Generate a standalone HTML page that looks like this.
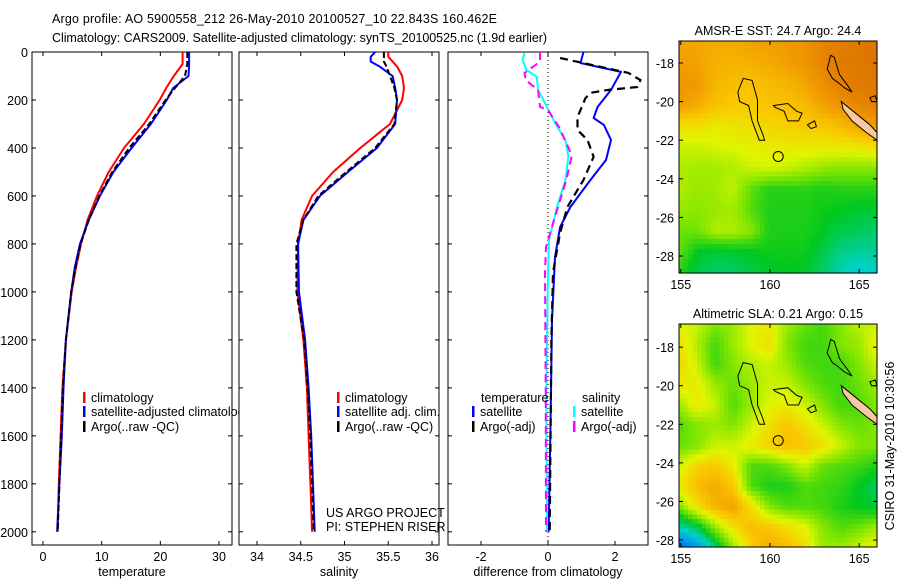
<!DOCTYPE html>
<html><head><meta charset="utf-8"><style>
html,body{margin:0;padding:0;background:#fff;}
svg{display:block;font-family:"Liberation Sans",sans-serif;}
text{font-size:12.5px;fill:#000;}
</style></head><body>
<svg id="fig" width="900" height="580" viewBox="0 0 900 580">
<text x="52" y="23" textLength="445">Argo profile: AO 5900558_212 26-May-2010 20100527_10 22.843S 160.462E</text>
<text x="52" y="42" textLength="495">Climatology: CARS2009. Satellite-adjusted climatology: synTS_20100525.nc (1.9d earlier)</text>
<g id="g"></g>
</svg>
<script>
// ---------- profile data ----------
const tDepthClim = [0,50,100,150,200,300,400,500,600,700,800,900,1000,1200,1400,1600,1800,2000];
const tempClim   = [23.8,23.8,22.3,21.0,19.9,17.2,13.8,11.2,9.2,7.6,6.5,5.6,4.9,3.9,3.3,3.0,2.7,2.5];
const tempSat    = [24.9,24.9,24.8,22.2,21.1,18.4,15.1,12.0,9.7,7.8,6.3,5.4,4.8,3.9,3.5,3.2,2.8,2.4];
const tempArgo   = [24.6,24.6,24.2,22.5,20.9,18.1,14.7,11.8,9.6,7.8,6.4,5.5,4.8,3.9,3.4,3.1,2.8,2.5];
const sDepth     = [0,20,40,60,100,150,200,300,400,500,600,700,800,1000,1200,1400,1600,1800,2000];
const salClim    = [35.50,35.50,35.55,35.60,35.66,35.68,35.66,35.52,35.18,34.87,34.63,34.51,34.47,34.46,34.53,34.57,34.59,34.61,34.63];
const salSat     = [35.35,35.30,35.30,35.40,35.55,35.58,35.60,35.58,35.37,35.04,34.72,34.53,34.47,34.48,34.55,34.59,34.62,34.64,34.66];
const salArgo    = [35.45,35.45,35.45,35.48,35.52,35.57,35.60,35.57,35.35,35.02,34.70,34.53,34.45,34.45,34.54,34.58,34.61,34.63,34.65];
const dtSatDepth = [0,46,83,158,229,275,304,367,450,533,646,729,854,1117,1500,2000];
const dtSat      = [1.06,0.97,2.18,1.88,1.48,1.36,1.67,1.88,1.73,1.27,0.67,0.36,0.21,0.12,0.08,0.02];
const dtArgoDepth= [25,87,117,146,158,170,192,242,271,325,367,437,533,646,754,920,1200,2000];
const dtArgo     = [0.36,2.4,2.76,2.67,1.8,1.27,1.12,0.97,0.88,0.88,1.18,1.36,1.06,0.58,0.36,0.15,0.1,0.05];
const dsSatDepth = [4,33,75,104,158,229,296,367,437,533,646,783,920,1400,2000];
const dsSat      = [-0.7,-0.76,-0.64,-0.33,-0.3,-0.03,0.21,0.52,0.61,0.52,0.27,0.03,0.0,-0.05,-0.03];
const dsArgoDepth= [0,40,88,117,158,229,242,313,408,437,533,646,729,813,920,1400,2000];
const dsArgo     = [-0.24,-0.24,-0.7,-0.67,-0.3,-0.24,0.0,0.33,0.64,0.7,0.55,0.3,0.12,-0.06,-0.09,-0.07,-0.06];
const depthTicks = [0,200,400,600,800,1000,1200,1400,1600,1800,2000];
const tempTicks  = [0,10,20,30];
const salTicks   = [34,34.5,35,35.5,36];
const salTickLabels = ["34","34.5","35","35.5","36"];
const diffTicks  = [-2,0,2];
// ---------- map data ----------
const sstGrid = [
[26.6,26.6,26.5,26.5,26.7,26.7,26.8,26.9,27.2,27.3,27.4,27.5],
[26.7,26.6,26.4,26.3,26.4,26.5,26.7,26.9,27.2,27.4,27.4,27.5],
[26.9,26.8,26.3,26.1,26.1,26.2,26.3,26.6,27.0,27.3,27.4,27.4],
[26.8,26.5,26.1,25.9,25.9,26.0,26.1,26.2,26.7,27.0,27.2,27.3],
[25.6,25.6,25.4,25.5,25.6,25.7,25.8,25.9,26.0,26.2,26.6,26.8],
[25.0,25.0,25.1,25.2,25.3,25.4,25.4,25.4,25.4,25.4,25.5,25.6],
[24.8,24.7,24.7,24.8,25.0,25.1,25.0,24.8,24.6,24.5,24.5,24.5],
[24.8,24.6,24.7,24.9,24.2,23.8,23.8,23.8,23.7,23.8,23.8,23.8],
[24.6,24.5,24.6,24.7,24.1,23.7,23.7,23.7,23.6,23.5,23.4,23.4],
[24.3,24.3,24.8,24.8,24.5,23.7,23.7,23.7,23.5,23.2,23.1,23.0],
[24.2,23.5,23.3,23.4,23.5,23.6,23.6,23.6,23.2,22.8,22.7,22.7],
[23.8,23.2,23.0,23.0,23.2,23.4,23.5,23.4,23.0,22.5,22.2,22.4]];
const slaGrid = [
[.68,.66,.60,.62,.68,.70,.62,.58,.55,.60,.65,.66],
[.72,.64,.55,.62,.68,.72,.60,.55,.55,.60,.62,.70],
[.74,.66,.55,.60,.64,.66,.62,.56,.55,.55,.60,.66],
[.70,.70,.62,.58,.62,.66,.66,.60,.56,.55,.58,.62],
[.62,.70,.66,.56,.62,.68,.70,.66,.60,.55,.56,.60],
[.56,.60,.62,.60,.66,.72,.76,.72,.66,.60,.58,.60],
[.58,.60,.66,.66,.70,.74,.78,.76,.72,.66,.60,.60],
[.66,.74,.76,.70,.56,.56,.60,.66,.58,.56,.55,.52],
[.70,.78,.82,.76,.56,.52,.52,.56,.55,.54,.50,.45],
[.60,.72,.80,.84,.72,.60,.56,.56,.55,.52,.50,.48],
[.40,.48,.62,.72,.78,.76,.72,.68,.60,.56,.58,.62],
[.15,.25,.45,.62,.74,.82,.78,.72,.62,.62,.66,.70]];
const latTicks = [-18,-20,-22,-24,-26,-28];
const lonTicks = [155,160,165];
const island1 = [[158.2,-19.5],[158.5,-18.8],[159.0,-18.9],[159.3,-19.9],[159.3,-21.0],[159.6,-21.7],[159.7,-22.0],[159.4,-22.0],[159.0,-21.0],[158.8,-20.2],[158.3,-20.0],[158.2,-19.5]];
const island2 = [[163.3,-18.0],[163.4,-17.6],[163.6,-17.7],[163.9,-18.6],[164.3,-19.1],[164.6,-19.5],[164.2,-19.3],[163.8,-19.0],[163.5,-18.8],[163.2,-18.3],[163.3,-18.0]];
const island3 = [[160.2,-20.2],[161.0,-20.1],[161.5,-20.5],[161.8,-20.6],[161.6,-21.0],[161.0,-21.0],[160.8,-20.5],[160.3,-20.3],[160.2,-20.2]];
const island4 = [[162.1,-21.2],[162.5,-21.0],[162.6,-21.3],[162.3,-21.4],[162.1,-21.2]];
const island5 = [[165.6,-19.8],[165.9,-19.7],[166.0,-20.0],[165.7,-20.0],[165.6,-19.8]];
const newCaledonia = [[164.0,-20.0],[164.8,-20.6],[165.6,-21.2],[166.0,-21.6],[166.0,-22.0],[165.4,-21.6],[164.6,-21.0],[164.1,-20.4],[164.0,-20.0]];
const argoPos = [160.462,-22.843];

const NS='http://www.w3.org/2000/svg';
const G=document.getElementById('g');
function mk(tag,attrs,parent){const e=document.createElementNS(NS,tag);for(const k in attrs)e.setAttribute(k,attrs[k]);(parent||G).appendChild(e);return e;}
function txt(x,y,s,anchor,parent){const e=mk('text',{x:x,y:y,'text-anchor':anchor||'start'},parent);e.textContent=s;return e;}

const TOP=52,BOT=545,D0=0,D1=2055;
function yD(d){return TOP+(d-D0)/(D1-D0)*(BOT-TOP);}
function linScale(v0,v1,p0,p1){return v=>p0+(v-v0)/(v1-v0)*(p1-p0);}

function panel(name,x0,x1,xs,ticks,labels,xlabel,showDepthLabels){
  const g=mk('g',{});
  
  
  mk('rect',{x:x0,y:TOP,width:x1-x0,height:BOT-TOP,fill:'#fff',stroke:'#000','stroke-width':1},g);
  depthTicks.forEach(d=>{const y=yD(d);
    mk('line',{x1:x0,x2:x0+4,y1:y,y2:y,stroke:'#000'},g);
    mk('line',{x1:x1-4,x2:x1,y1:y,y2:y,stroke:'#000'},g);
    if(showDepthLabels){const t=txt(x0-4,y+5,String(d),'end',g);
      
      }
  });
  ticks.forEach((v,i)=>{const x=xs(v);
    mk('line',{x1:x,x2:x,y1:BOT,y2:BOT-4,stroke:'#000'},g);
    mk('line',{x1:x,x2:x,y1:TOP,y2:TOP+4,stroke:'#000'},g);
    const t=txt(x,561,labels[i],'middle',g);
    
    
  });
  const xl=txt((x0+x1)/2,576,xlabel,'middle',g);
  
  
  return g;
}
function line(g,depths,vals,xs,color,w,dash,name){
  const pts=depths.map((d,i)=>xs(vals[i]).toFixed(1)+','+yD(d).toFixed(1)).join(' ');
  const p=mk('polyline',{points:pts,fill:'none',stroke:color,'stroke-width':w,'stroke-dasharray':dash||'none','stroke-linejoin':'round'},g);
  
  
}
function legendEntry(g,x,y,color,label,name){
  mk('rect',{x:x,y:y-10,width:2.5,height:11,fill:color},g);
  const t=txt(x+8,y,label,'start',g);
  
  
}
// panel 1
const xT=linScale(0,30,43,219);
const p1=panel('temperature',32,232,xT,tempTicks,tempTicks.map(String),'temperature',true);
line(p1,tDepthClim,tempClim,xT,'#ff0000',2,null,'temp-climatology-line');
line(p1,tDepthClim,tempSat,xT,'#0000ff',2,null,'temp-satellite-line');
line(p1,tDepthClim,tempArgo,xT,'#000',2,'6,3','temp-argo-line');
legendEntry(p1,83,402,'#ff0000','climatology','legend-climatology');
legendEntry(p1,83,416,'#0000ff','satellite-adjusted climatology','legend-satellite');
legendEntry(p1,83,431,'#000','Argo(..raw -QC)','legend-argo');
// panel 2
const xS=linScale(34,36,257,432);
const p2=panel('salinity',239,439,xS,salTicks,salTickLabels,'salinity',false);
line(p2,sDepth,salClim,xS,'#ff0000',2,null,'sal-climatology-line');
line(p2,sDepth,salSat,xS,'#0000ff',2,null,'sal-satellite-line');
line(p2,sDepth,salArgo,xS,'#000',2,'6,3','sal-argo-line');
legendEntry(p2,337,402,'#ff0000','climatology','legend-climatology-2');
legendEntry(p2,337,416,'#0000ff','satellite adj. clim.','legend-satellite-2');
legendEntry(p2,337,431,'#000','Argo(..raw -QC)','legend-argo-2');
const c1=txt(326,517,'US ARGO PROJECT','start',p2);


const c2=txt(326,531,'PI: STEPHEN RISER','start',p2);


// panel 3
const xDf=linScale(-2,2,481,615);
const p3=panel('difference',448,648,xDf,diffTicks,diffTicks.map(String),'difference from climatology',false);
mk('line',{x1:xDf(0),x2:xDf(0),y1:TOP,y2:BOT,stroke:'#000','stroke-dasharray':'1,3'},p3);
line(p3,dtSatDepth,dtSat,xDf,'#0000ff',2,null,'temp-diff-satellite-line');
line(p3,dtArgoDepth,dtArgo,xDf,'#000',2.2,'8,5','temp-diff-argo-line');
line(p3,dsSatDepth,dsSat,xDf,'#00ffff',2,null,'sal-diff-satellite-line');
line(p3,dsArgoDepth,dsArgo,xDf,'#ff00ff',2,'8,5','sal-diff-argo-line');
const lt=txt(481,402,'temperature','start',p3);


const ls=txt(582,402,'salinity','start',p3);


legendEntry(p3,472,416,'#0000ff','satellite','legend-temp-satellite');
legendEntry(p3,472,431,'#000','Argo(-adj)','legend-temp-argo');
legendEntry(p3,573,416,'#00ffff','satellite','legend-sal-satellite');
legendEntry(p3,573,431,'#ff00ff','Argo(-adj)','legend-sal-argo');

// ---------- maps ----------
const cmapStops=[[0,[0,40,200]],[0.25,[0,150,240]],[0.38,[0,210,200]],[0.5,[0,200,30]],[0.6,[130,230,0]],[0.68,[225,245,0]],[0.76,[250,200,0]],[0.86,[240,150,0]],[1,[200,80,0]]];
function cmap(v){v=Math.max(0,Math.min(1,v));
  for(let i=1;i<cmapStops.length;i++){if(v<=cmapStops[i][0]){const a=cmapStops[i-1],b=cmapStops[i];const f=(v-a[0])/(b[0]-a[0]);
    return 'rgb('+a[1].map((c,k)=>Math.round(c+(b[1][k]-c)*f)).join(',')+')';}}
  return 'rgb(200,80,0)';}
function drawMap(name,grid,norm,x0,x1,y0,y1,latTop,latBot,title){
  const g=mk('g',{});
  
  
  const lonMin=154.9,lonMax=166.0;
  const X=lon=>x0+(lon-lonMin)/(lonMax-lonMin)*(x1-x0);
  const Y=lat=>y0+(latTop-lat)/(latTop-latBot)*(y1-y0);
  const R=grid.length,C=grid[0].length;
  const NX=44,NY=48,cw=(x1-x0)/NX,ch=(y1-y0)/NY;
  for(let j=0;j<NY;j++){for(let i=0;i<NX;i++){
    const gx=(i+0.5)/NX*(C-1),gy=(j+0.5)/NY*(R-1);
    const ix=Math.min(C-2,Math.floor(gx)),iy=Math.min(R-2,Math.floor(gy));
    const fx=gx-ix,fy=gy-iy;
    const v=grid[iy][ix]*(1-fx)*(1-fy)+grid[iy][ix+1]*fx*(1-fy)+grid[iy+1][ix]*(1-fx)*fy+grid[iy+1][ix+1]*fx*fy;
    const r=mk('rect',{x:(x0+i*cw).toFixed(2),y:(y0+j*ch).toFixed(2),width:(cw+0.6).toFixed(2),height:(ch+0.6).toFixed(2),fill:cmap(norm(v))},g);
    
    
  }}
  const poly=(pts,fill,nm)=>{const p=mk('polygon',{points:pts.map(p=>X(p[0]).toFixed(1)+','+Y(p[1]).toFixed(1)).join(' '),fill:fill,stroke:'#000','stroke-width':1},g);
    
    };
  poly(island1,'none','reef-contour');poly(island2,'none','reef-contour');poly(island3,'none','reef-contour');
  poly(island4,'none','reef-contour');poly(island5,'none','reef-contour');poly(newCaledonia,'#f8c8a0','new-caledonia-land');
  const c=mk('circle',{cx:X(argoPos[0]),cy:Y(argoPos[1]),r:5,fill:'none',stroke:'#000'},g);
  
  
  mk('rect',{x:x0,y:y0,width:x1-x0,height:y1-y0,fill:'none',stroke:'#000'},g);
  latTicks.forEach(l=>{const y=Y(l);if(y<y0||y>y1)return;
    mk('line',{x1:x0,x2:x0+4,y1:y,y2:y,stroke:'#000'},g);mk('line',{x1:x1-4,x2:x1,y1:y,y2:y,stroke:'#000'},g);
    const t=txt(x0-5,y+5,String(l),'end',g);
    
    });
  lonTicks.forEach(l=>{const x=X(l);
    mk('line',{x1:x,x2:x,y1:y1,y2:y1-4,stroke:'#000'},g);mk('line',{x1:x,x2:x,y1:y0,y2:y0+4,stroke:'#000'},g);
    const t=txt(x,y1+16,String(l),'middle',g);
    
    });
  const tt=txt((x0+x1)/2,y0-6,title,'middle',g);
  
  
}
drawMap('sst-map',sstGrid,v=>0.5+(v-23.5)*0.107,679,877,41,273,-16.86,-28.88,'AMSR-E SST: 24.7 Argo: 24.4');
drawMap('sla-map',slaGrid,v=>v,679,877,324,547,-16.8,-28.36,'Altimetric SLA: 0.21 Argo: 0.15');
const st=txt(0,0,'CSIRO 31-May-2010 10:30:56','middle');
st.setAttribute('transform','translate(894,446) rotate(-90)');


</script>
</body></html>
